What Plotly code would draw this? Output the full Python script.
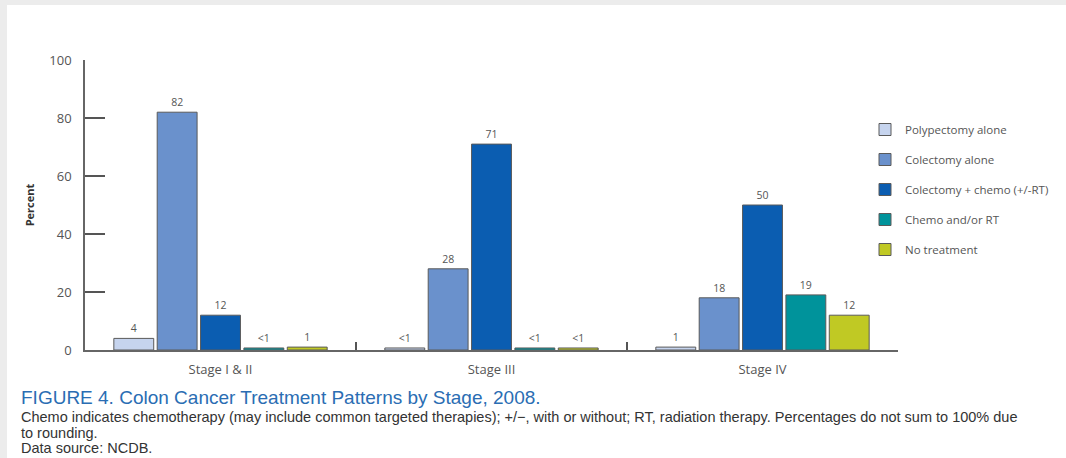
import plotly.graph_objects as go

W, H = 1066, 458
# plot area in pixels
L, R, T, B = 85, 898, 60, 350

categories = ["Stage I & II", "Stage III", "Stage IV"]
series_names = ["Polypectomy alone", "Colectomy alone", "Colectomy + chemo (+/-RT)",
                "Chemo and/or RT", "No treatment"]
polypectomy = [4, 0.7, 1]
colectomy = [82, 28, 18]
colectomy_chemo = [12, 71, 50]
chemo_rt = [0.7, 0.7, 19]
no_treatment = [1, 0.7, 12]
polypectomy_lbl = ["4", "<1", "1"]
colectomy_lbl = ["82", "28", "18"]
colectomy_chemo_lbl = ["12", "71", "50"]
chemo_rt_lbl = ["<1", "<1", "19"]
no_treatment_lbl = ["1", "<1", "12"]
colors = ["#c6d4ee", "#6a91cc", "#0b5db1", "#00939b", "#c0c924"]

values = [polypectomy, colectomy, colectomy_chemo, chemo_rt, no_treatment]
labels = [polypectomy_lbl, colectomy_lbl, colectomy_chemo_lbl, chemo_rt_lbl, no_treatment_lbl]

def px(x):
    return (x - L) / (R - L)

def py(y):
    return (B - y) / (B - T)

fig = go.Figure()
for i, name in enumerate(series_names):
    fig.add_trace(go.Bar(
        x=categories, y=values[i], name=name, text=labels[i],
        textposition="outside", cliponaxis=False,
        textfont=dict(size=10.5, color="#555555"),
        marker=dict(color=colors[i], line=dict(color="#5a5a5a", width=1)),
        legendgroup=name,
    ))

fig.update_layout(
    width=W, height=H,
    margin=dict(l=L, r=W - R, t=T, b=H - B),
    paper_bgcolor="white", plot_bgcolor="white",
    barmode="group", bargap=0.2, bargroupgap=0.08,
    font=dict(family="Open Sans, Arial, sans-serif", color="#555555"),
    showlegend=True,
    legend=dict(x=px(865), y=py(115), xanchor="left", yanchor="top",
                font=dict(size=11.5, color="#555555"), tracegroupgap=11,
                bgcolor="rgba(0,0,0,0)"),
    yaxis=dict(range=[0, 100], tickvals=[0, 20, 40, 60, 80, 100],
               ticks="inside", ticklen=20, tickwidth=1.5, tickcolor="#555555",
               showline=True, linecolor="#666666", linewidth=1.5,
               showgrid=False, zeroline=False, ticklabelstandoff=9,
               tickfont=dict(size=13, color="#555555"),
               title=dict(text="<b>Percent</b>", font=dict(size=11, color="#333333"), standoff=12)),
    xaxis=dict(range=[-0.5, 2.5], showline=True, linecolor="#666666", linewidth=1.5,
               ticks="inside", tickson="boundaries", ticklen=8, tickwidth=1.5, tickcolor="#555555",
               showgrid=False, ticklabelstandoff=7, tickfont=dict(size=13, color="#555555")),
)

# page border (scanned page edge)
fig.add_shape(type="rect", xref="paper", yref="paper", x0=px(0), x1=px(W), y0=py(5), y1=py(0),
              fillcolor="#ececec", line=dict(width=0), layer="below")
fig.add_shape(type="rect", xref="paper", yref="paper", x0=px(0), x1=px(7), y0=py(H), y1=py(0),
              fillcolor="#ececec", line=dict(width=0), layer="below")

fig.add_annotation(xref="paper", yref="paper", x=px(19), y=py(398), xanchor="left", yanchor="middle",
                   showarrow=False,
                   text="FIGURE 4. Colon Cancer Treatment Patterns by Stage, 2008.",
                   font=dict(family="Liberation Sans, Arial, sans-serif", size=19, color="#2a6db3"))
cap = ["Chemo indicates chemotherapy (may include common targeted therapies); +/\u2212, with or without; RT, radiation therapy. Percentages do not sum to 100% due",
       "to rounding.",
       "Data source: NCDB."]
for k, (t, yy) in enumerate(zip(cap, [417, 433, 448])):
    fig.add_annotation(xref="paper", yref="paper", x=px(19), y=py(yy), xanchor="left", yanchor="middle",
                       showarrow=False, text=t,
                       font=dict(family="Liberation Sans, Arial, sans-serif", size=14.5, color="#333333"))

fig.write_html("out.html")
